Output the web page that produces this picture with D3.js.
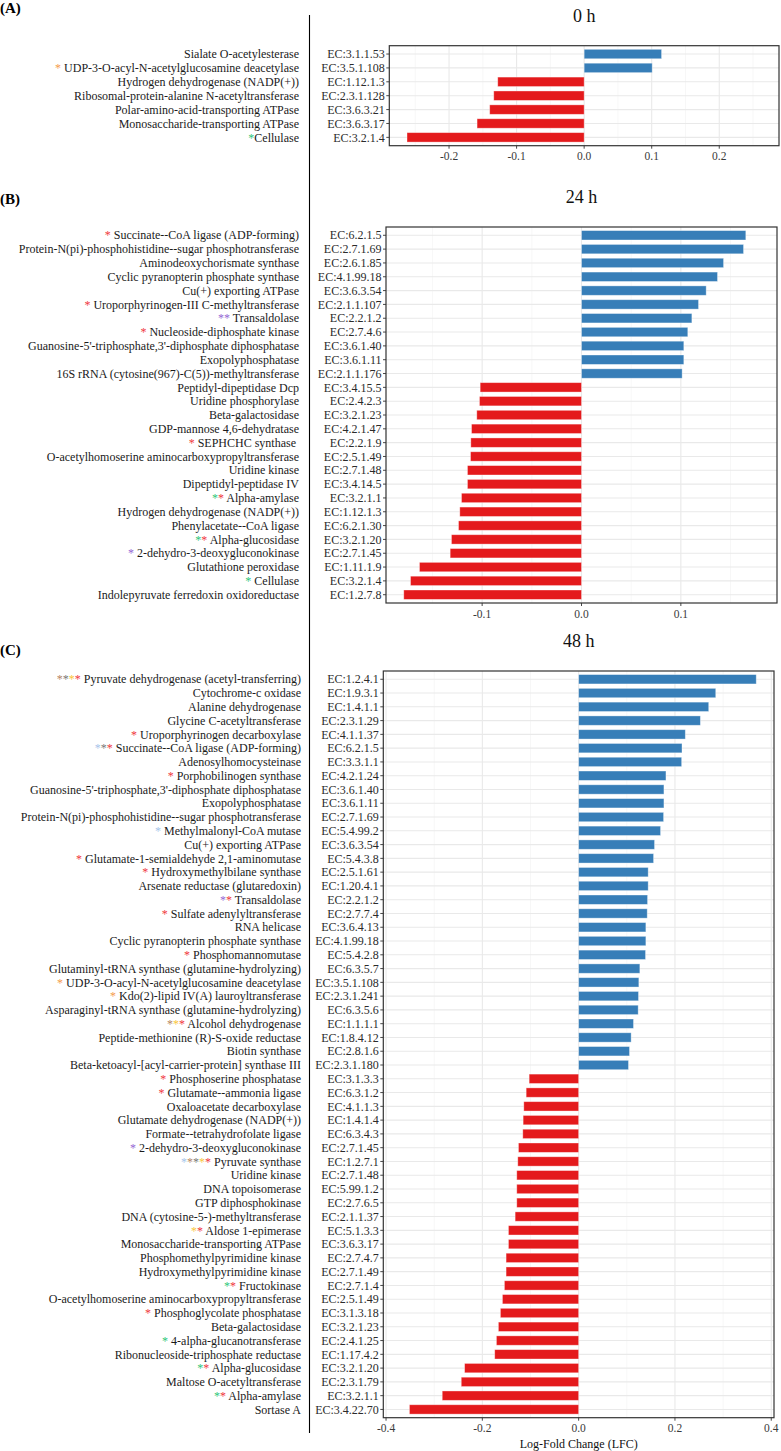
<!DOCTYPE html>
<html>
<head>
<meta charset="utf-8">
<script src="https://cdn.jsdelivr.net/npm/d3@7"></script>
<style>
  body { margin: 0; background: #fff; }
  svg text { font-family: 'Liberation Serif', 'Times New Roman', Times, serif; }
</style>
</head>
<body>
<script>
// star codes -> colour of the asterisk
var starColors = {R:"#f0363c", G:"#2fc67a", O:"#f59a4c", P:"#9565d4", L:"#a6c4ea", B:"#b58463", K:"#777777", Y:"#fac53a"};

// (A) 0 h
var namesA = ["Sialate O-acetylesterase","UDP-3-O-acyl-N-acetylglucosamine deacetylase","Hydrogen dehydrogenase (NADP(+))",
  "Ribosomal-protein-alanine N-acetyltransferase","Polar-amino-acid-transporting ATPase","Monosaccharide-transporting ATPase","Cellulase"];
var ecA = ["EC:3.1.1.53","EC:3.5.1.108","EC:1.12.1.3","EC:2.3.1.128","EC:3.6.3.21","EC:3.6.3.17","EC:3.2.1.4"];
var lfcA = [0.1146,0.1007,-0.1279,-0.1338,-0.1398,-0.1585,-0.2622];
var starsA = ["","O ","","","","","G"];

// (B) 24 h
var namesB = ["Succinate--CoA ligase (ADP-forming)","Protein-N(pi)-phosphohistidine--sugar phosphotransferase","Aminodeoxychorismate synthase",
  "Cyclic pyranopterin phosphate synthase","Cu(+) exporting ATPase","Uroporphyrinogen-III C-methyltransferase","Transaldolase",
  "Nucleoside-diphosphate kinase","Guanosine-5'-triphosphate,3'-diphosphate diphosphatase","Exopolyphosphatase",
  "16S rRNA (cytosine(967)-C(5))-methyltransferase","Peptidyl-dipeptidase Dcp","Uridine phosphorylase","Beta-galactosidase",
  "GDP-mannose 4,6-dehydratase","SEPHCHC synthase ","O-acetylhomoserine aminocarboxypropyltransferase","Uridine kinase",
  "Dipeptidyl-peptidase IV","Alpha-amylase","Hydrogen dehydrogenase (NADP(+))","Phenylacetate--CoA ligase","Alpha-glucosidase",
  "2-dehydro-3-deoxygluconokinase","Glutathione peroxidase","Cellulase","Indolepyruvate ferredoxin oxidoreductase"];
var ecB = ["EC:6.2.1.5","EC:2.7.1.69","EC:2.6.1.85","EC:4.1.99.18","EC:3.6.3.54","EC:2.1.1.107","EC:2.2.1.2","EC:2.7.4.6",
  "EC:3.6.1.40","EC:3.6.1.11","EC:2.1.1.176","EC:3.4.15.5","EC:2.4.2.3","EC:3.2.1.23","EC:4.2.1.47","EC:2.2.1.9","EC:2.5.1.49",
  "EC:2.7.1.48","EC:3.4.14.5","EC:3.2.1.1","EC:1.12.1.3","EC:6.2.1.30","EC:3.2.1.20","EC:2.7.1.45","EC:1.11.1.9","EC:3.2.1.4","EC:1.2.7.8"];
var lfcB = [0.1654,0.1631,0.1430,0.1369,0.1255,0.1178,0.1111,0.1070,0.1030,0.1030,0.1013,-0.1020,-0.1027,-0.1054,-0.1107,
  -0.1114,-0.1117,-0.1148,-0.1148,-0.1208,-0.1225,-0.1238,-0.1309,-0.1322,-0.1631,-0.1721,-0.1789];
var starsB = ["R ","","","","","R ","PP ","R ","","","","","","","","R ","","","","GR ","","","GR ","P ","","G ",""];

// (C) 48 h
var namesC = ["Pyruvate dehydrogenase (acetyl-transferring)","Cytochrome-c oxidase","Alanine dehydrogenase","Glycine C-acetyltransferase",
  "Uroporphyrinogen decarboxylase","Succinate--CoA ligase (ADP-forming)","Adenosylhomocysteinase","Porphobilinogen synthase",
  "Guanosine-5'-triphosphate,3'-diphosphate diphosphatase","Exopolyphosphatase","Protein-N(pi)-phosphohistidine--sugar phosphotransferase",
  "Methylmalonyl-CoA mutase","Cu(+) exporting ATPase","Glutamate-1-semialdehyde 2,1-aminomutase","Hydroxymethylbilane synthase",
  "Arsenate reductase (glutaredoxin)","Transaldolase","Sulfate adenylyltransferase","RNA helicase","Cyclic pyranopterin phosphate synthase",
  "Phosphomannomutase","Glutaminyl-tRNA synthase (glutamine-hydrolyzing)","UDP-3-O-acyl-N-acetylglucosamine deacetylase",
  "Kdo(2)-lipid IV(A) lauroyltransferase","Asparaginyl-tRNA synthase (glutamine-hydrolyzing)","Alcohol dehydrogenase",
  "Peptide-methionine (R)-S-oxide reductase","Biotin synthase","Beta-ketoacyl-[acyl-carrier-protein] synthase III",
  "Phosphoserine phosphatase","Glutamate--ammonia ligase","Oxaloacetate decarboxylase","Glutamate dehydrogenase (NADP(+))",
  "Formate--tetrahydrofolate ligase","2-dehydro-3-deoxygluconokinase","Pyruvate synthase","Uridine kinase","DNA topoisomerase",
  "GTP diphosphokinase","DNA (cytosine-5-)-methyltransferase","Aldose 1-epimerase","Monosaccharide-transporting ATPase",
  "Phosphomethylpyrimidine kinase","Hydroxymethylpyrimidine kinase","Fructokinase","O-acetylhomoserine aminocarboxypropyltransferase",
  "Phosphoglycolate phosphatase","Beta-galactosidase","4-alpha-glucanotransferase","Ribonucleoside-triphosphate reductase",
  "Alpha-glucosidase","Maltose O-acetyltransferase","Alpha-amylase","Sortase A"];
var ecC = ["EC:1.2.4.1","EC:1.9.3.1","EC:1.4.1.1","EC:2.3.1.29","EC:4.1.1.37","EC:6.2.1.5","EC:3.3.1.1","EC:4.2.1.24","EC:3.6.1.40",
  "EC:3.6.1.11","EC:2.7.1.69","EC:5.4.99.2","EC:3.6.3.54","EC:5.4.3.8","EC:2.5.1.61","EC:1.20.4.1","EC:2.2.1.2","EC:2.7.7.4",
  "EC:3.6.4.13","EC:4.1.99.18","EC:5.4.2.8","EC:6.3.5.7","EC:3.5.1.108","EC:2.3.1.241","EC:6.3.5.6","EC:1.1.1.1","EC:1.8.4.12",
  "EC:2.8.1.6","EC:2.3.1.180","EC:3.1.3.3","EC:6.3.1.2","EC:4.1.1.3","EC:1.4.1.4","EC:6.3.4.3","EC:2.7.1.45","EC:1.2.7.1",
  "EC:2.7.1.48","EC:5.99.1.2","EC:2.7.6.5","EC:2.1.1.37","EC:5.1.3.3","EC:3.6.3.17","EC:2.7.4.7","EC:2.7.1.49","EC:2.7.1.4",
  "EC:2.5.1.49","EC:3.1.3.18","EC:3.2.1.23","EC:2.4.1.25","EC:1.17.4.2","EC:3.2.1.20","EC:2.3.1.79","EC:3.2.1.1","EC:3.4.22.70"];
var lfcC = [0.3688,0.2847,0.2701,0.2528,0.2215,0.2146,0.2139,0.1813,0.1771,0.1771,0.1764,0.1701,0.1576,0.1556,0.1444,0.1444,
  0.1431,0.1424,0.1396,0.1396,0.1389,0.1271,0.1250,0.1243,0.1236,0.1139,0.1090,0.1056,0.1035,
  -0.1028,-0.1090,-0.1139,-0.1153,-0.1160,-0.1250,-0.1264,-0.1285,-0.1285,-0.1285,-0.1319,-0.1458,-0.1458,-0.1507,-0.1507,
  -0.1542,-0.1583,-0.1625,-0.1667,-0.1708,-0.1743,-0.2368,-0.2438,-0.2833,-0.3514];
var starsC = ["BKYR ","","","","R ","LKR ","","R ","","","","L ","","R ","R ","","PR ","R ","","","R ","","O ","O ","","BYR ",
  "","","","R ","R ","","","","P ","LBKYR ","","","","","YR ","","","","GR ","","R ","","G ","","GR ","","GR ",""];

var W = 781, H = 1451;
var svg = d3.select("body").append("svg").attr("width", W).attr("height", H);
var serif = "'Liberation Serif', 'Times New Roman', Times, serif";

// panel layout
var panels = [
  {letter:"(A)", title:"0 h", names:namesA, ec:ecA, lfc:lfcA, stars:starsA,
   x0:389.3, x1:779, y0:45.7, y1:145.7, letterY:13, nameX:299},
  {letter:"(B)", title:"24 h", names:namesB, ec:ecB, lfc:lfcB, stars:starsB,
   x0:386, x1:777, y0:227, y1:603, letterY:204, nameX:299},
  {letter:"(C)", title:"48 h", names:namesC, ec:ecC, lfc:lfcC, stars:starsC,
   x0:383.3, x1:774, y0:671, y1:1417.7, letterY:655, nameX:301}
];

// divider between name column and plots
svg.append("line")
  .attr("x1", 309.5).attr("x2", 309.5).attr("y1", 15).attr("y2", 1433)
  .style("stroke", "#000").style("stroke-width", 1.1);

panels.forEach(function(p){
  var g = svg.append("g").attr("font-family", serif);
  var lim = d3.max(p.lfc, d => Math.abs(d)) * 1.1;
  var x = d3.scaleLinear().domain([-lim, lim]).range([p.x0, p.x1]);
  var y = d3.scalePoint().domain(d3.range(p.lfc.length)).range([p.y0, p.y1]).padding(0.6);
  var bh = y.step() * 0.68;

  var ticks = x.ticks(5);
  var stp = ticks[1] - ticks[0];
  var minors = d3.range(ticks[0] - stp/2, lim, stp).filter(d => d > -lim);

  // panel letter
  g.append("text").text(p.letter)
    .attr("x", 0).attr("y", p.letterY)
    .style("font-size", "15px").style("font-weight", "bold").attr("fill", "#000");

  // title
  g.append("text").text(p.title)
    .attr("x", (p.x0 + p.x1)/2).attr("y", p.y0 - 24)
    .style("text-anchor", "middle").style("font-size", "18px").attr("fill", "#111");

  // minor grid
  g.selectAll(".minor").data(minors).enter().append("line")
    .attr("x1", d => x(d)).attr("x2", d => x(d))
    .attr("y1", p.y0).attr("y2", p.y1)
    .style("stroke", "#f2f2f2").style("stroke-width", 0.6);

  // major grid
  g.selectAll(".vmaj").data(ticks).enter().append("line")
    .attr("x1", d => x(d)).attr("x2", d => x(d))
    .attr("y1", p.y0).attr("y2", p.y1)
    .style("stroke", "#e9e9e9").style("stroke-width", 1.1);
  g.selectAll(".hmaj").data(y.domain()).enter().append("line")
    .attr("x1", p.x0).attr("x2", p.x1)
    .attr("y1", d => y(d)).attr("y2", d => y(d))
    .style("stroke", "#e9e9e9").style("stroke-width", 1.1);

  // bars
  g.selectAll(".bar").data(p.lfc).enter().append("rect")
    .attr("x", d => x(Math.min(0, d)))
    .attr("width", d => Math.abs(x(d) - x(0)))
    .attr("y", (d, i) => y(i) - bh/2)
    .attr("height", bh)
    .style("fill", d => d > 0 ? "#377eb8" : "#e41a1c")
    .style("stroke", "#fff").style("stroke-opacity", 0.45).style("stroke-width", 0.8);

  // frame
  g.append("rect")
    .attr("x", p.x0).attr("y", p.y0)
    .attr("width", p.x1 - p.x0).attr("height", p.y1 - p.y0)
    .style("fill", "none").style("stroke", "#333").style("stroke-width", 1.2);

  // y ticks + EC labels
  g.selectAll(".ytick").data(y.domain()).enter().append("line")
    .attr("x1", p.x0 - 3).attr("x2", p.x0)
    .attr("y1", d => y(d)).attr("y2", d => y(d))
    .style("stroke", "#333").style("stroke-width", 0.9);
  g.selectAll(".eclab").data(p.ec).enter().append("text")
    .text(d => d)
    .attr("x", p.x0 - 4.5).attr("y", (d, i) => y(i)).attr("dy", "0.35em")
    .style("text-anchor", "end").style("font-size", "12px").attr("fill", "#2b2b2b");

  // x ticks + labels
  g.selectAll(".xtick").data(ticks).enter().append("line")
    .attr("x1", d => x(d)).attr("x2", d => x(d))
    .attr("y1", p.y1).attr("y2", p.y1 + 3)
    .style("stroke", "#333").style("stroke-width", 0.9);
  g.selectAll(".xlab").data(ticks).enter().append("text")
    .text(d => d.toFixed(1))
    .attr("x", d => x(d)).attr("y", p.y1 + 14.5)
    .style("text-anchor", "middle").style("font-size", "11.5px").attr("fill", "#3a3a3a");

  // enzyme names with coloured stars
  p.names.forEach(function(nm, i){
    var t = g.append("text")
      .attr("x", p.nameX).attr("y", y(i)).attr("dy", "0.35em")
      .style("text-anchor", "end").style("font-size", "12px").style("white-space", "pre")
      .attr("fill", "#1a1a1a");
    p.stars[i].split("").forEach(function(c){
      if (c === " ") t.append("tspan").text(" ");
      else t.append("tspan").text("*").attr("fill", starColors[c]);
    });
    t.append("tspan").text(nm);
  });
});

// x axis title under last panel
var last = panels[2];
svg.append("text").text("Log-Fold Change (LFC)")
  .attr("x", (last.x0 + last.x1)/2).attr("y", 1448)
  .attr("font-family", serif)
  .style("text-anchor", "middle").style("font-size", "12px").attr("fill", "#111");
</script>
</body>
</html>
